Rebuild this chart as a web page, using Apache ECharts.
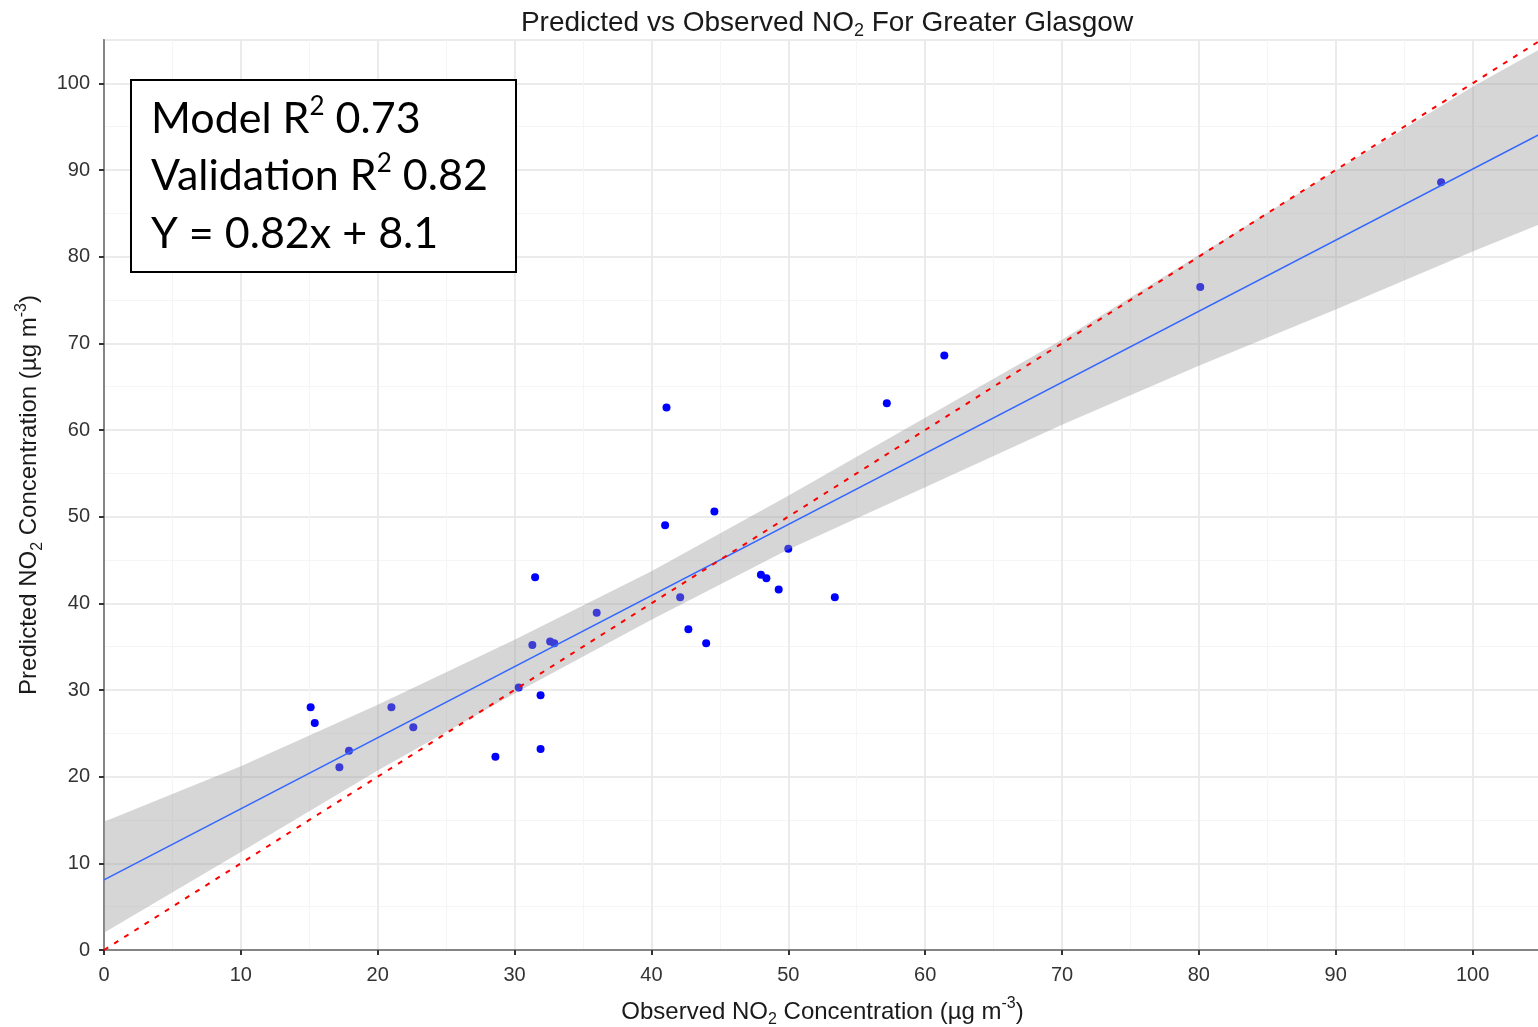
<!DOCTYPE html>
<html>
<head>
<meta charset="utf-8">
<script src="https://cdn.jsdelivr.net/npm/echarts@6/dist/echarts.min.js"></script>
<style>
  html, body { margin: 0; padding: 0; background: #fff; }
  #chart { width: 1538px; height: 1027px; }
</style>
</head>
<body>
<div id="chart"></div>
<script>
// observed vs predicted NO2 (ug m-3)
const observed = [15.1, 15.4, 17.2, 17.9, 21.0, 22.6, 28.6, 30.3, 31.3, 31.5,
                  31.9, 31.9, 32.6, 32.9, 36.0, 41.0, 41.1, 42.1, 42.7, 44.0,
                  44.6, 48.0, 48.4, 49.3, 50.0, 53.4, 57.2, 61.4, 80.1, 97.7];
const predicted = [28.0, 26.2, 21.1, 23.0, 28.0, 25.7, 22.3, 30.3, 35.2, 43.0,
                   29.4, 23.2, 35.6, 35.4, 38.9, 49.0, 62.6, 40.7, 37.0, 35.4,
                   50.6, 43.3, 42.9, 41.6, 46.3, 40.7, 63.1, 68.6, 76.5, 88.6];

// confidence band of the fit, read at these x positions
const bandX = [0, 10, 20, 30, 40, 50, 60, 70, 80, 90, 100, 105];
const bandLower = [2.0, 11.3, 20.7, 29.6, 38.1, 46.2, 53.4, 60.6, 67.4, 73.9, 80.6, 83.8];
const bandUpper = [14.8, 21.2, 28.3, 35.8, 43.7, 52.4, 61.4, 70.4, 80.2, 89.9, 99.6, 104.0];

// fitted line Y = 0.82x + 8.1 and the 1:1 line
const fitLine = [[0, 8.1], [105, 94.2]];
const oneToOne = [[0, 0], [105, 105]];

const axisTicks = [0, 10, 20, 30, 40, 50, 60, 70, 80, 90, 100];

const chart = echarts.init(document.getElementById('chart'));

const nameRich = {
    n: { fontSize: 24, fontFamily: 'Liberation Sans', color: '#1a1a1a', lineHeight: 32, verticalAlign: 'middle' },
    sub: { fontSize: 16, fontFamily: 'Liberation Sans', color: '#1a1a1a', lineHeight: 16, verticalAlign: 'bottom' },
    sup: { fontSize: 16, fontFamily: 'Liberation Sans', color: '#1a1a1a', lineHeight: 16, verticalAlign: 'top' }
};

const boxRich = {
    n: { fontSize: 43, fontFamily: 'Lato', color: '#000', lineHeight: 50, verticalAlign: 'middle' },
    s: { fontSize: 26, fontFamily: 'Lato', color: '#000', lineHeight: 30, verticalAlign: 'top' }
};

const commonAxis = {
    type: 'value',
    min: 0,
    max: 105,
    interval: 10,
    axisLine: { show: true, lineStyle: { color: '#858585', width: 2 } },
    axisTick: { show: true, length: 5, lineStyle: { color: '#333', width: 2 } },
    axisLabel: {
        fontSize: 20, fontFamily: 'Liberation Sans', color: '#333',
        showMaxLabel: false,
        formatter: function (v) { return axisTicks.indexOf(v) >= 0 ? String(v) : ''; }
    },
    splitLine: { show: true, lineStyle: { color: '#EBEBEB', width: 2 } },
    minorTick: { show: false, splitNumber: 2 },
    minorSplitLine: { show: true, lineStyle: { color: '#F5F5F5', width: 1 } }
};

const option = {
    animation: false,
    backgroundColor: '#fff',
    title: {
        text: '{n|Predicted vs Observed NO}{sub|2}{n| For Greater Glasgow}',
        left: 822,
        top: 1,
        textAlign: 'center',
        textStyle: {
            fontWeight: 'normal',
            rich: {
                n: { fontSize: 28, fontWeight: 'normal', fontFamily: 'Liberation Sans', color: '#1a1a1a', lineHeight: 34, verticalAlign: 'middle' },
                sub: { fontSize: 18, fontWeight: 'normal', fontFamily: 'Liberation Sans', color: '#1a1a1a', lineHeight: 18, verticalAlign: 'bottom' }
            }
        }
    },
    grid: {
        left: 104,
        top: 40,
        width: 1437,
        height: 910,
        show: true,
        borderColor: '#999',
        borderWidth: 2,
        containLabel: false,
        outerBoundsMode: 'none'
    },
    xAxis: Object.assign({}, commonAxis, {
        name: '{n|Observed NO}{sub|2}{n| Concentration (µg m}{sup|-3}{n|)}',
        nameLocation: 'middle',
        nameGap: 46,
        nameTextStyle: { rich: nameRich },
        axisLabel: Object.assign({}, commonAxis.axisLabel, { margin: 15 })
    }),
    yAxis: Object.assign({}, commonAxis, {
        name: '{n|Predicted NO}{sub|2}{n| Concentration (µg m}{sup|-3}{n|)}',
        nameLocation: 'middle',
        nameGap: 52,
        nameRotate: 90,
        nameTextStyle: { rich: nameRich },
        axisLabel: Object.assign({}, commonAxis.axisLabel, { margin: 14 })
    }),
    series: [
        {
            type: 'scatter',
            data: observed.map(function (x, i) { return [x, predicted[i]]; }),
            symbolSize: 8,
            itemStyle: { color: '#0000FF', opacity: 1 },
            z: 2
        },
        {
            type: 'custom',
            data: bandX.map(function (x, i) { return [x, bandLower[i], bandUpper[i]]; }),
            encode: { x: 0, y: [1, 2] },
            clip: true,
            z: 3,
            renderItem: function (params, api) {
                if (params.dataIndex !== 0) return null;
                const pts = [];
                for (let i = 0; i < bandX.length; i++) pts.push(api.coord([bandX[i], bandUpper[i]]));
                for (let i = bandX.length - 1; i >= 0; i--) pts.push(api.coord([bandX[i], bandLower[i]]));
                return {
                    type: 'polygon',
                    shape: { points: pts },
                    style: { fill: 'rgba(153,153,153,0.4)' }
                };
            }
        },
        {
            type: 'line',
            data: fitLine,
            symbol: 'none',
            lineStyle: { color: '#3366FF', width: 1.5 },
            z: 4
        },
        {
            type: 'line',
            data: oneToOne,
            symbol: 'none',
            lineStyle: { color: '#FF0000', width: 2, type: [5, 7] },
            z: 5
        }
    ],
    graphic: [
        {
            type: 'rect',
            z: 100,
            shape: { x: 131, y: 80, width: 385, height: 192 },
            style: { fill: '#fff', stroke: '#000', lineWidth: 2 }
        },
        {
            type: 'text', z: 101, x: 151, y: 119,
            style: { text: '{n|Model R}{s|2}{n| 0.73}', rich: boxRich, verticalAlign: 'middle' }
        },
        {
            type: 'text', z: 101, x: 151, y: 176,
            style: { text: '{n|Validation R}{s|2}{n| 0.82}', rich: boxRich, verticalAlign: 'middle' }
        },
        {
            type: 'text', z: 101, x: 151, y: 234,
            style: { text: '{n|Y = 0.82x + 8.1}', rich: boxRich, verticalAlign: 'middle' }
        }
    ]
};

chart.setOption(option);
</script>
</body>
</html>
